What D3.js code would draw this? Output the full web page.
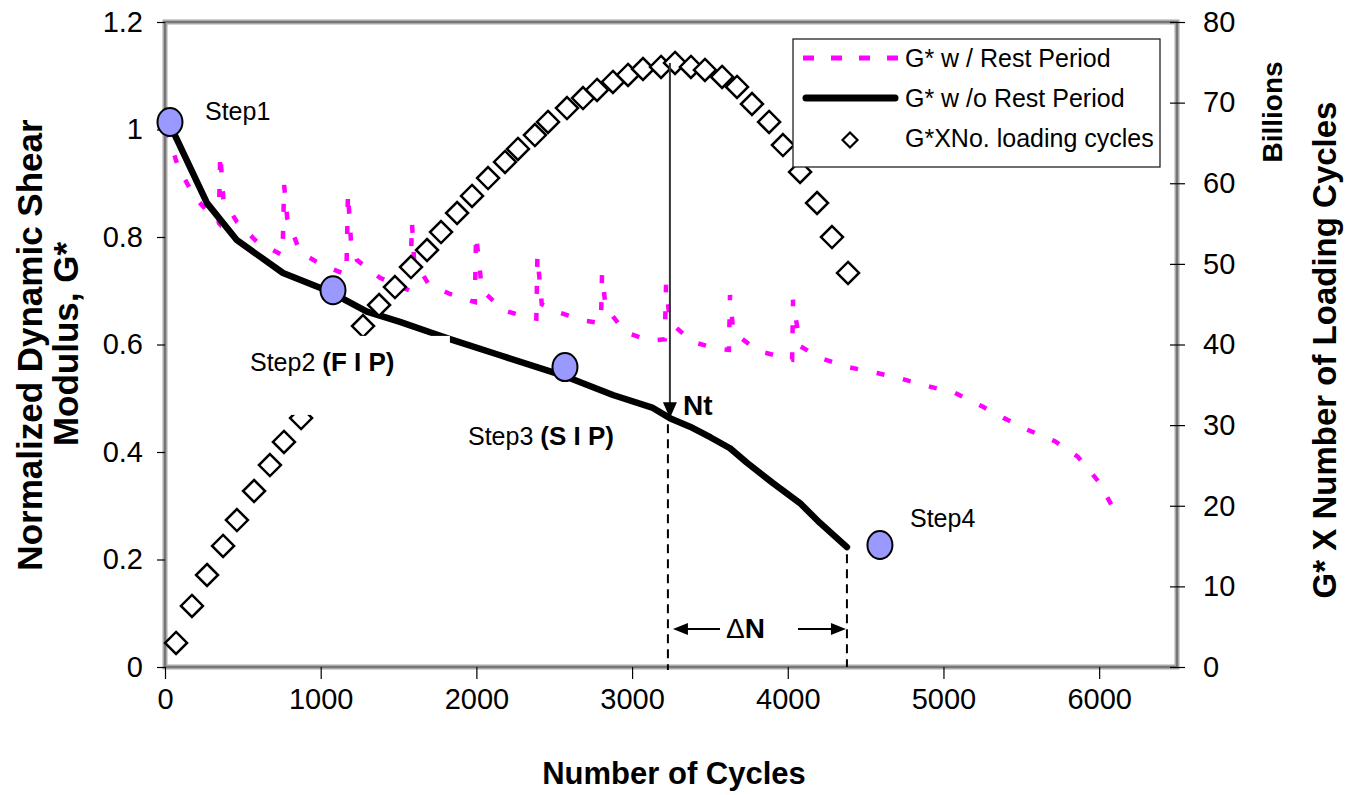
<!DOCTYPE html>
<html><head><meta charset="utf-8">
<script src="https://cdn.jsdelivr.net/npm/d3@7"></script>
<style>
body{margin:0;background:#fff}
svg{display:block}
text{font-family:"Liberation Sans",Arial,Helvetica,sans-serif;fill:#000}
</style>
</head><body>
<svg id="chart" width="1351" height="795"></svg>
<script>
// ---------- data ----------
const xTickValues = [0, 1000, 2000, 3000, 4000, 5000, 6000];
const yLeftTickValues = [0, 0.2, 0.4, 0.6, 0.8, 1, 1.2];
const yRightTickValues = [0, 10, 20, 30, 40, 50, 60, 70, 80];

// G* w/o Rest Period (black line)
const cyclesNoRest = [30, 270, 462, 758, 1060, 1297, 1509, 1721, 1830, 2152, 2569, 2877, 3134, 3243, 3372, 3505, 3629, 3738, 3905, 4078, 4207, 4380];
const gNoRest      = [1.01, 0.863, 0.794, 0.733, 0.698, 0.661, 0.642, 0.621, 0.610, 0.580, 0.541, 0.506, 0.482, 0.463, 0.447, 0.427, 0.407, 0.380, 0.342, 0.305, 0.268, 0.223];

// G* w/ Rest Period (magenta dashed line)
const cyclesRest = [10, 32, 84, 193, 300, 345, 355, 375, 462, 591, 755, 765, 785, 867, 1008, 1165, 1175, 1195, 1233, 1381, 1575, 1586, 1600, 1689, 1830, 1990, 1998, 2036, 2171, 2325, 2385, 2392, 2420, 2537, 2698, 2800, 2807, 2830, 2955, 3115, 3210, 3218, 3243, 3385, 3552, 3622, 3629, 3650, 3809, 3988, 4028, 4034, 4079, 4207, 4387, 4573, 4734, 4894, 5074, 5254, 5389, 5543, 5716, 5864, 5999, 6120];
const gRest      = [1.00, 0.98, 0.93, 0.873, 0.84, 0.826, 0.955, 0.87, 0.828, 0.791, 0.766, 0.897, 0.835, 0.772, 0.748, 0.73, 0.882, 0.79, 0.757, 0.724, 0.70, 0.828, 0.757, 0.714, 0.694, 0.679, 0.804, 0.701, 0.664, 0.651, 0.648, 0.765, 0.675, 0.659, 0.644, 0.64, 0.731, 0.67, 0.623, 0.607, 0.61, 0.711, 0.642, 0.605, 0.592, 0.59, 0.692, 0.623, 0.588, 0.575, 0.572, 0.683, 0.597, 0.575, 0.558, 0.547, 0.536, 0.523, 0.510, 0.484, 0.463, 0.441, 0.420, 0.391, 0.344, 0.280];

// G* x No. loading cycles (diamonds, billions, right axis)
const cyclesProd = [71, 173, 270, 373, 462, 572, 674, 764, 874, 970, 1073, 1169, 1272, 1375, 1477, 1580, 1683, 1773, 1876, 1972, 2075, 2184, 2267, 2376, 2460, 2582, 2685, 2775, 2877, 2974, 3070, 3186, 3276, 3378, 3468, 3578, 3674, 3770, 3880, 3969, 4079, 4188, 4284, 4387];
const prodBillions = [2.98, 7.57, 11.41, 15.01, 18.23, 21.83, 25.05, 27.91, 30.88, 33.74, 36.59, 39.32, 42.29, 44.90, 47.13, 49.61, 51.72, 53.95, 56.31, 58.42, 60.65, 62.64, 64.25, 65.98, 67.60, 69.33, 70.57, 71.57, 72.56, 73.43, 74.17, 74.42, 74.92, 74.42, 74.05, 73.18, 71.94, 69.83, 67.60, 64.74, 61.40, 57.55, 53.33, 48.87];

// Step markers
const stepNames  = ["Step1", "Step2", "Step3", "Step4"];
const stepCycles = [32, 1079, 2569, 4592];
const stepG      = [1.014, 0.701, 0.558, 0.227];

const ntCycles = 3243;       // Nt
const ntG = 0.463;
const failCycles = 4380;     // end of test
const failG = 0.223;

// ---------- layout ----------
const svg = d3.select("#chart");
const x = d3.scaleLinear().domain([0, 6500]).range([165, 1177]);
const yL = d3.scaleLinear().domain([0, 1.2]).range([667, 22]);
const yR = d3.scaleLinear().domain([0, 80]).range([667, 22]);

const TICK_FS = 29;

// plot border
svg.append("rect").attr("x", x(0)).attr("y", yL(1.2)).attr("width", x(6500) - x(0)).attr("height", yL(0) - yL(1.2))
  .attr("fill", "#fff").attr("stroke", "#a8a8a8").attr("stroke-width", 5);
svg.append("rect").attr("x", x(0)).attr("y", yL(1.2)).attr("width", x(6500) - x(0)).attr("height", yL(0) - yL(1.2))
  .attr("fill", "none").attr("stroke", "#666").attr("stroke-width", 1.5);

// axes
const axL = svg.append("g").attr("transform", `translate(${x(0)},0)`)
  .call(d3.axisLeft(yL).tickValues(yLeftTickValues).tickSize(8).tickPadding(14).tickFormat(d => String(d)));
const axR = svg.append("g").attr("transform", `translate(${x(6500)},0)`)
  .call(d3.axisRight(yR).tickValues(yRightTickValues).tickSize(8).tickPadding(18).tickFormat(d => String(d)));
axR.selectAll(".tick line").attr("x1", -7);
const axB = svg.append("g").attr("transform", `translate(0,${yL(0)})`)
  .call(d3.axisBottom(x).tickValues(xTickValues).tickSize(12).tickPadding(9).tickFormat(d => String(d)));
[axL, axR, axB].forEach(a => {
  a.select(".domain").remove();
  a.selectAll(".tick line").attr("stroke", "#000").attr("stroke-width", 1.2);
  a.selectAll(".tick text").attr("font-size", TICK_FS).attr("font-family", '"Liberation Sans",Arial,sans-serif').attr("fill", "#000");
});

// ---------- series ----------
const restPts = cyclesRest.map((c, i) => [c, gRest[i]]);
svg.append("path").datum(restPts)
  .attr("d", d3.line().x(d => x(d[0])).y(d => yL(d[1])))
  .attr("fill", "none").attr("stroke", "#ff00ff").attr("stroke-width", 4.5)
  .attr("stroke-dasharray", "8 19");

const noRestPts = cyclesNoRest.map((c, i) => [c, gNoRest[i]]);
svg.append("path").datum(noRestPts)
  .attr("d", d3.line().x(d => x(d[0])).y(d => yL(d[1])))
  .attr("fill", "none").attr("stroke", "#000").attr("stroke-width", 6.5)
  .attr("stroke-linejoin", "round").attr("stroke-linecap", "round");

const diamond = (cx, cy, r) => `M${cx},${cy - r}L${cx + r},${cy}L${cx},${cy + r}L${cx - r},${cy}Z`;
svg.append("g").selectAll("path").data(cyclesProd.map((c, i) => [c, prodBillions[i]])).join("path")
  .attr("d", d => diamond(x(d[0]), yR(d[1]), 11))
  .attr("fill", "#fff").attr("stroke", "#000").attr("stroke-width", 2.5);

// ---------- annotations ----------
// white text box of Step2 label (covers part of the plot)
svg.append("rect").attr("x", x(515)).attr("y", yL(0.616)).attr("width", x(1830) - x(515)).attr("height", yL(0.469) - yL(0.616))
  .attr("fill", "#fff");

// Nt arrow
svg.append("line").attr("x1", x(ntCycles)).attr("x2", x(ntCycles)).attr("y1", yR(74.9)).attr("y2", yL(ntG) - 14)
  .attr("stroke", "#333").attr("stroke-width", 2);
svg.append("path").attr("d", `M${x(ntCycles) - 7},${yL(ntG) - 16}L${x(ntCycles) + 7},${yL(ntG) - 16}L${x(ntCycles)},${yL(ntG)}Z`).attr("fill", "#000");
svg.append("text").attr("x", x(ntCycles) + 13).attr("y", yL(ntG) - 3).attr("font-size", 28).attr("font-weight", "bold").text("Nt");

// dashed drop lines
svg.append("line").attr("x1", x(ntCycles) - 2).attr("x2", x(ntCycles) - 2).attr("y1", yL(ntG) + 6).attr("y2", yL(0) + 3)
  .attr("stroke", "#000").attr("stroke-width", 2).attr("stroke-dasharray", "9 6");
svg.append("line").attr("x1", x(failCycles)).attr("x2", x(failCycles)).attr("y1", yL(failG) + 7).attr("y2", yL(0))
  .attr("stroke", "#000").attr("stroke-width", 2).attr("stroke-dasharray", "9 6");

// delta N arrows
const ay = 629;
const lx = x(ntCycles) + 3, rx = x(failCycles) - 1;
svg.append("line").attr("x1", lx + 12).attr("x2", 720).attr("y1", ay).attr("y2", ay).attr("stroke", "#000").attr("stroke-width", 2);
svg.append("path").attr("d", `M${lx},${ay}L${lx + 15},${ay - 6}L${lx + 15},${ay + 6}Z`).attr("fill", "#000");
svg.append("line").attr("x1", 798).attr("x2", rx - 12).attr("y1", ay).attr("y2", ay).attr("stroke", "#000").attr("stroke-width", 2);
svg.append("path").attr("d", `M${rx},${ay}L${rx - 15},${ay - 6}L${rx - 15},${ay + 6}Z`).attr("fill", "#000");
const dn = svg.append("text").attr("x", 726).attr("y", 638).attr("font-size", 28);
dn.append("tspan").text("Δ");
dn.append("tspan").attr("font-weight", "bold").text("N");

// step circles
svg.append("g").selectAll("ellipse").data(stepCycles.map((c, i) => [c, stepG[i]])).join("ellipse")
  .attr("cx", d => x(d[0])).attr("cy", d => yL(d[1])).attr("rx", 12.5).attr("ry", 14)
  .attr("fill", "#9999ff").attr("stroke", "#000").attr("stroke-width", 2);

// step labels
const stepLabelPos = [[205, 120, ""], [250, 371, "(F I P)"], [468, 445, "(S I P)"], [910, 527, ""]];
stepLabelPos.forEach((p, i) => {
  const t = svg.append("text").attr("x", p[0]).attr("y", p[1]).attr("font-size", 25);
  t.append("tspan").text(stepNames[i] + (p[2] ? " " : ""));
  if (p[2]) t.append("tspan").attr("font-weight", "bold").attr("font-size", 26).text(p[2]);
});

// ---------- legend ----------
const lg = svg.append("g");
lg.append("rect").attr("x", 793).attr("y", 39).attr("width", 367).attr("height", 128)
  .attr("fill", "#fff").attr("stroke", "#222").attr("stroke-width", 1.3);
lg.append("line").attr("x1", 803).attr("x2", 898).attr("y1", 58).attr("y2", 58)
  .attr("stroke", "#ff00ff").attr("stroke-width", 5).attr("stroke-dasharray", "11 17");
lg.append("line").attr("x1", 806).attr("x2", 895).attr("y1", 98).attr("y2", 98)
  .attr("stroke", "#000").attr("stroke-width", 7).attr("stroke-linecap", "round");
lg.append("path").attr("d", diamond(850, 140, 7.5)).attr("fill", "#fff").attr("stroke", "#000").attr("stroke-width", 2.2);
const legendLabels = ["G* w / Rest Period", "G* w /o Rest Period", "G*XNo. loading cycles"];
const legendBase = [67, 107, 147];
legendLabels.forEach((s, i) => lg.append("text").attr("x", 905).attr("y", legendBase[i]).attr("font-size", 25).text(s));

// ---------- titles ----------
svg.append("text").attr("x", 674).attr("y", 784).attr("text-anchor", "middle")
  .attr("font-size", 31).attr("font-weight", "bold").text("Number of Cycles");
svg.append("text").attr("transform", "translate(42,345) rotate(-90)").attr("text-anchor", "middle")
  .attr("font-size", 35).attr("font-weight", "bold").text("Normalized Dynamic Shear");
svg.append("text").attr("transform", "translate(78,344) rotate(-90)").attr("text-anchor", "middle")
  .attr("font-size", 35).attr("font-weight", "bold").text("Modulus, G*");
svg.append("text").attr("transform", "translate(1336,350) rotate(-90)").attr("text-anchor", "middle")
  .attr("font-size", 33).attr("font-weight", "bold").text("G* X Number of Loading Cycles");
svg.append("text").attr("transform", "translate(1282,112) rotate(-90)").attr("text-anchor", "middle")
  .attr("font-size", 28).attr("font-weight", "bold").text("Billions");
</script>
</body></html>
